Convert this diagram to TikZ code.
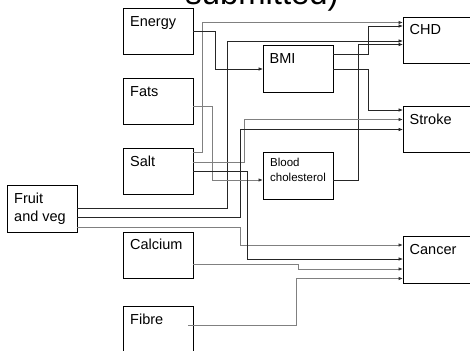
\documentclass[tikz,border=0pt]{standalone}
\usepackage{fontspec}
\setmainfont{Liberation Sans}
\usetikzlibrary{arrows.meta,calc}
\begin{document}
\begin{tikzpicture}[x=1pt,y=-1pt,
  box/.style={draw=black,line width=0.8pt,anchor=north west,inner sep=0pt,outer sep=0pt},
  lbl/.style={anchor=base west,inner sep=0pt,font=\fontsize{14.5}{18}\selectfont},
  slbl/.style={anchor=base west,inner sep=0pt,font=\fontsize{11.5}{14}\selectfont},
  conn/.style={draw=black!85,line width=0.7pt,-{Latex[length=4.5pt,width=3.6pt]}},
  gconn/.style={draw=black!50,line width=0.95pt,-{Latex[length=4.5pt,width=3.6pt,color=black!80]}}]
\useasboundingbox (0,0) rectangle (470,350);
\clip (0,0) rectangle (470,350);

\node[anchor=base,inner sep=0pt,font=\fontsize{32.8}{36}\selectfont] (title) at (262,5) {submitted)};

% boxes
\node[box,minimum width=70pt,minimum height=46pt] (energy) at (123,8) {};
\node[box,minimum width=70pt,minimum height=46pt] (fats) at (123,78) {};
\node[box,minimum width=70pt,minimum height=46pt] (salt) at (123,148) {};
\node[box,minimum width=70pt,minimum height=47pt] (fruit) at (7,185) {};
\node[box,minimum width=70pt,minimum height=46pt] (calcium) at (123,232) {};
\node[box,minimum width=70pt,minimum height=50pt] (fibre) at (123,306) {};
\node[box,minimum width=70pt,minimum height=47pt] (bmi) at (263,45) {};
\node[box,minimum width=70pt,minimum height=47pt] (bc) at (263,152) {};
\node[box,minimum width=80pt,minimum height=46pt] (chd) at (403,17) {};
\node[box,minimum width=80pt,minimum height=46pt] (stroke) at (403,106) {};
\node[box,minimum width=80pt,minimum height=47pt] (cancer) at (403,236) {};

% labels
\node[lbl] (tenergy) at ($(energy.north west)+(7,18.5)$) {Energy};
\node[lbl] (tfats) at ($(fats.north west)+(7,18.5)$) {Fats};
\node[lbl] (tsalt) at ($(salt.north west)+(7,18.5)$) {Salt};
\node[lbl] (tfruit1) at ($(fruit.north west)+(7,18.3)$) {Fruit};
\node[lbl] (tfruit2) at ($(fruit.north west)+(7,36.7)$) {and veg};
\node[lbl] (tcalcium) at ($(calcium.north west)+(7,17.5)$) {Calcium};
\node[lbl] (tfibre) at ($(fibre.north west)+(7,18)$) {Fibre};
\node[lbl] (tbmi) at ($(bmi.north west)+(6.5,18.3)$) {BMI};
\node[slbl] (tbc1) at ($(bc.north west)+(7,14.7)$) {Blood};
\node[slbl] (tbc2) at ($(bc.north west)+(7,29)$) {cholesterol};
\node[lbl] (tchd) at ($(chd.north west)+(6.5,18)$) {CHD};
\node[lbl] (tstroke) at ($(stroke.north west)+(6.5,18.3)$) {Stroke};
\node[lbl] (tcancer) at ($(cancer.north west)+(6.5,18.3)$) {Cancer};

% connectors
\draw[gconn] ($(salt.north east)+(0,4)$) -| (202,22.5) -- ($(chd.north west)+(0,5.5)$);
\draw[conn] ($(bmi.north east)+(0,9)$) -| (368,26) -- ($(chd.north west)+(0,9)$);
\draw[conn] ($(fruit.north east)+(0,23)$) -| (227,41) -- ($(chd.north west)+(0,24)$);
\draw[conn] ($(bc.north east)+(0,28)$) -| (358,44.5) -- ($(chd.north west)+(0,27.5)$);
\draw[conn] ($(energy.north east)+(0,23.5)$) -| (215.5,69) -- ($(bmi.north west)+(0,24)$);
\draw[conn] ($(bmi.north east)+(0,24)$) -| (368,110) -- ($(stroke.north west)+(0,4)$);
\draw[gconn] ($(salt.north east)+(0,14)$) -| (244,119.5) -- ($(stroke.north west)+(0,13.5)$);
\draw[conn] ($(fruit.north east)+(0,32)$) -| (240,129.5) -- ($(stroke.north west)+(0,23.5)$);
\draw[gconn] ($(fats.north east)+(0,28)$) -| (212,180) -- ($(bc.north west)+(0,28)$);
\draw[gconn] ($(fruit.north east)+(0,42)$) -| (240,245) -- ($(cancer.north west)+(0,9)$);
\draw[conn] ($(salt.north east)+(0,23)$) -| (247,259) -- ($(cancer.north west)+(0,23)$);
\draw[gconn] ($(calcium.north east)+(0,32)$) -| (298,269) -- ($(cancer.north west)+(0,33)$);
\draw[gconn] ($(fibre.north east)+(-5,19)$) -| (296,278.5) -- ($(cancer.north west)+(0,42.5)$);
\end{tikzpicture}
\end{document}
